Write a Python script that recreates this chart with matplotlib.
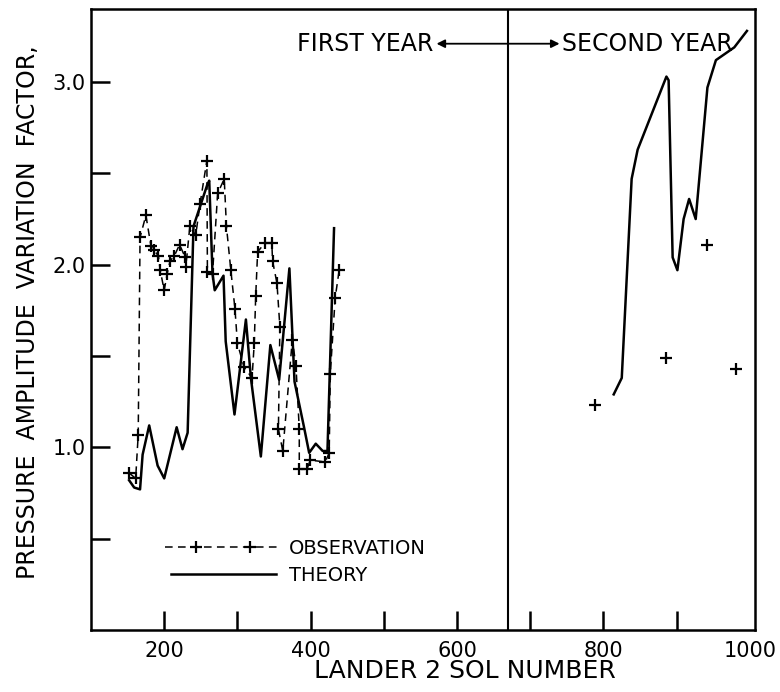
import numpy as np
import matplotlib
matplotlib.use("Agg")
import matplotlib.pyplot as plt
from matplotlib.lines import Line2D
from matplotlib.ticker import FixedLocator
from matplotlib.legend_handler import HandlerLine2D

# first year observations (sol, factor)
obs1_sol = [152, 161, 164.5, 167, 175, 182, 185.5, 192, 194.5, 200, 204, 208, 214, 221,
            228.7, 229.6, 235, 243, 248.8, 258.3, 259, 266, 273, 282, 285, 291, 296.6,
            300, 309, 320, 323, 325, 327.6, 337.6, 347, 348, 354, 358, 356, 362, 375,
            380, 384.5, 384.5, 395, 399.5, 420, 425.4, 426.8, 433.6, 439]
obs1_val = [0.86, 0.83, 1.07, 2.15, 2.27, 2.10, 2.08, 2.05, 1.97, 1.86, 1.95, 2.02, 2.05, 2.11,
            2.04, 1.99, 2.21, 2.16, 2.33, 2.57, 1.96, 1.95, 2.39, 2.47, 2.21, 1.97, 1.76,
            1.57, 1.44, 1.38, 1.57, 1.83, 2.07, 2.12, 2.12, 2.02, 1.90, 1.66, 1.10, 0.98, 1.59,
            1.445, 1.10, 0.88, 0.88, 0.93, 0.92, 0.97, 1.40, 1.82, 1.97]

# first year theory
th1_sol = [152, 159, 167, 170.5, 179.5, 191, 200, 217, 225, 232, 240, 259, 261.5, 266, 269,
           281, 284, 296, 311.6, 318.4, 332, 345, 357, 371, 378, 391, 398, 407, 416.5, 423, 432]
th1_val = [0.82, 0.78, 0.77, 0.96, 1.12, 0.90, 0.83, 1.11, 0.99, 1.08, 2.21, 2.44, 2.46, 1.95, 1.86,
           1.94, 1.58, 1.18, 1.70, 1.38, 0.95, 1.56, 1.37, 1.98, 1.36, 1.11, 0.97, 1.02, 0.98, 0.98, 2.20]

# second year
th2_sol = [814, 825, 838.5, 846.7, 886, 889, 894.5, 901, 909.5, 917, 926, 942, 953.6, 978.7, 996]
th2_val = [1.29, 1.38, 2.47, 2.63, 3.03, 3.01, 2.04, 1.97, 2.25, 2.36, 2.25, 2.97, 3.12, 3.19, 3.28]
obs2_sol = [788, 886, 942, 981]
obs2_val = [1.23, 1.49, 2.11, 1.43]

year_split = 669

obs_style = dict(color='k', ls='--', lw=1.1, marker='+', ms=9, mew=1.6, dashes=(5, 3.5))


class InnerMarkers(HandlerLine2D):
    # line over the whole handle, markers at about 1/4 and 3/4 ("--+---+--")
    def get_xdata(self, legend, xdescent, ydescent, width, height, fontsize):
        x0 = -xdescent
        xdata = np.array([x0, x0 + 0.27 * width, x0 + 0.73 * width, x0 + width])
        return xdata, xdata

    def create_artists(self, *args, **kwargs):
        arts = super().create_artists(*args, **kwargs)
        for a in arts:
            a.set_markevery([1, 2])
        return arts


fig = plt.figure(figsize=(7.8, 6.92), dpi=100)
ax = fig.add_axes([91 / 780, 1 - 630 / 692, 664 / 780, 621 / 692])

ax.plot(obs1_sol, obs1_val, **obs_style)
l_th, = ax.plot(th1_sol, th1_val, 'k-', lw=1.8, label='THEORY')
ax.plot(th2_sol, th2_val, 'k-', lw=1.8)
ax.plot(obs2_sol, obs2_val, 'k+', ms=9, mew=1.6, ls='none')

ax.axvline(year_split, color='k', lw=1.5)

ax.set_xlim(100, 1007)
ax.set_ylim(0, 3.4)

ax.set_xticks([200, 400, 600, 800, 1000])
ax.set_xticklabels(['200', '400', '600', '800', '1000'])
ax.xaxis.set_minor_locator(FixedLocator([300, 500, 700, 900]))
ax.set_yticks([1.0, 2.0, 3.0])
ax.set_yticklabels(['1.0', '2.0', '3.0'])
ax.yaxis.set_minor_locator(FixedLocator([0.5, 1.5, 2.5]))
ax.tick_params(which='both', direction='in', length=14, width=1.8,
               top=False, right=False, labelsize=15)
ax.tick_params(axis='x', pad=8)
ax.tick_params(axis='y', pad=4)
ax.xaxis.get_major_ticks()[-1].tick1line.set_visible(False)

for s in ax.spines.values():
    s.set_linewidth(1.8)

ax.set_xlabel('LANDER 2 SOL NUMBER', fontsize=18)
ax.xaxis.set_label_coords(0.563, -0.047)
ax.set_ylabel('PRESSURE  AMPLITUDE  VARIATION  FACTOR,', fontsize=17)
ax.yaxis.set_label_coords(-0.077, 0.512)

ax.text(567, 3.21, 'FIRST YEAR', fontsize=17, ha='right', va='center')
ax.text(744, 3.21, 'SECOND YEAR', fontsize=17, ha='left', va='center')
ax.annotate('', xy=(572, 3.21), xytext=(740, 3.21),
            arrowprops=dict(arrowstyle='<|-|>', color='k', lw=1.3, mutation_scale=12,
                            shrinkA=0, shrinkB=0))

obs_proxy = Line2D([], [], label='OBSERVATION', **obs_style)
ax.legend(handles=[obs_proxy, l_th], loc='lower left', bbox_to_anchor=(0.111, 0.072),
          frameon=False, fontsize=14, numpoints=2, handlelength=6.0,
          handletextpad=0.4, labelspacing=0.45, borderpad=0, borderaxespad=0,
          handler_map={obs_proxy: InnerMarkers()})

fig.savefig('out.png', dpi=100)
